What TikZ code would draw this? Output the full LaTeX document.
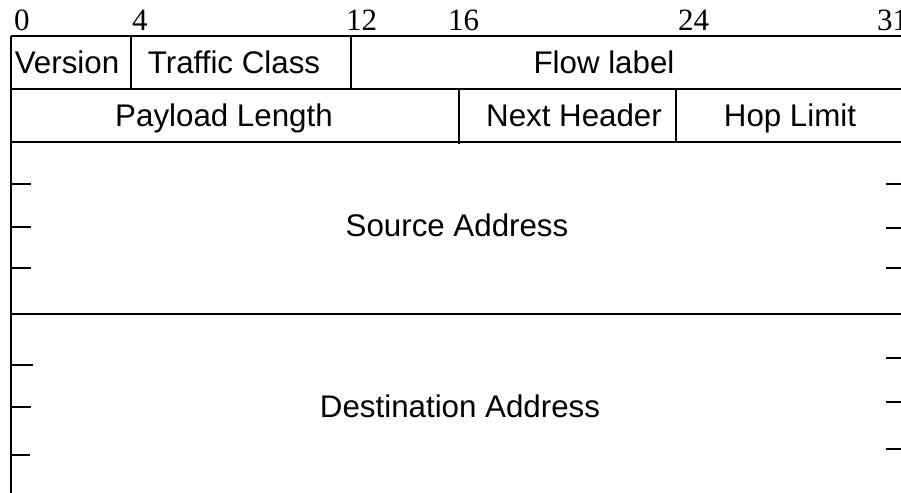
\documentclass[tikz,border=0pt]{standalone}
\usepackage{fontspec}
\setmainfont{Liberation Serif}
\setsansfont{Liberation Sans}
\usepackage{tikz}
\usetikzlibrary{positioning}
\tikzset{
    %Define style for field names
    field/.style={
           anchor=base,
           inner sep=0pt,
           font=\sffamily\fontsize{31.3}{37}\selectfont},
    %Define style for bit numbers
    bitnum/.style={
           anchor=base west,
           inner sep=0pt,
           font=\rmfamily\fontsize{31}{37}\selectfont},
    % Define line styles
    frame/.style={
           draw=black,
           line width=1.7pt},
    tick/.style={
           draw=black,
           line width=1.7pt}
}
\begin{document}
\begin{tikzpicture}[x=1pt,y=-1pt]
\useasboundingbox (0,0) rectangle (901,492);
\clip (0,0) rectangle (901,492);
% bit numbers
\node[bitnum](b0) at (14,31){0};
\node[bitnum](b4) at (132,31){4};
\node[bitnum](b12) at (346,31){12};
\node[bitnum](b16) at (448,31){16};
\node[bitnum](b24) at (678,31){24};
\node[bitnum](b31) at (877,31){31};
% rows
\draw[frame] (11,36) -- (930,36);
\draw[frame] (11,89) -- (930,89);
\draw[frame] (11,142) -- (930,142);
\draw[frame] (11,314) -- (930,314);
\draw[frame] (11,36) -- (11,500);
% dividers
\draw[frame] (131,36) -- (131,89);
\draw[frame] (351,36) -- (351,89);
\draw[frame] (459,89) -- (459,144);
\draw[frame] (676,89) -- (676,142);
% fields
\node[field](version) at (67,74){Version};
\node[field](traffic) at (234,74){Traffic Class};
\node[field](flow) at (604,74){Flow label};
\node[field](payload) at (224,126){Payload Length};
\node[field](next) at (574,126){Next Header};
\node[field](hop) at (790,126){Hop Limit};
\node[field](src) at (457,236){Source Address};
\node[field](dst) at (460,417){Destination Address};
% ticks
\foreach \y/\l in {184/31,227/31,268/31,365/33,407/31,455/30}
    \draw[tick] (11,\y) -- (\l,\y);
\foreach \y in {184,228,268,358,402,449}
    \draw[tick] (886,\y) -- (905,\y);
\end{tikzpicture}
\end{document}
